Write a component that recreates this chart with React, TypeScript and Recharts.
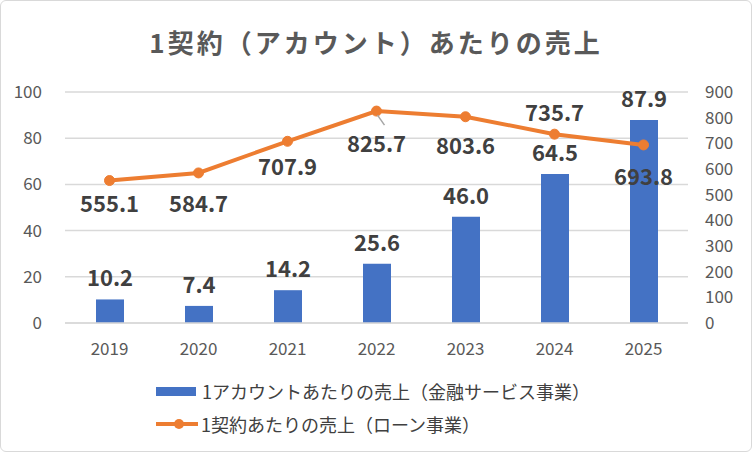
import { ComposedChart, Bar, Line, XAxis, YAxis, CartesianGrid, LabelList } from 'recharts';

const years = ['2019', '2020', '2021', '2022', '2023', '2024', '2025'];
const accountSales = [10.2, 7.4, 14.2, 25.6, 46.0, 64.5, 87.9];
const contractSales = [555.1, 584.7, 707.9, 825.7, 803.6, 735.7, 693.8];
const leftTicks = [0, 20, 40, 60, 80, 100];
const rightTicks = [0, 100, 200, 300, 400, 500, 600, 700, 800, 900];

const title = '1契約（アカウント）あたりの売上';
const barName = '1アカウントあたりの売上（金融サービス事業）';
const lineName = '1契約あたりの売上（ローン事業）';

// line label nudges in px (below the point, except 2024 which sits above)
const lineLabelDy = [21, 29, 24, 31, 27, -23, 30];

const data = years.map((year, i) => ({
  year,
  account: accountSales[i],
  contract: contractSales[i],
}));

const FONT = '"Noto Sans CJK JP", "Noto Sans", sans-serif';
const BLUE = '#4472C4';
const ORANGE = '#ED7D31';

const labelStyle = {
  fontFamily: FONT,
  fontSize: 22,
  fontWeight: 700,
  fill: '#404040',
};

const BarLabel = (props: any) => {
  const { x, y, width, value } = props;
  return (
    <text x={x + width / 2} y={y - 23} textAnchor="middle" dominantBaseline="central" style={labelStyle}>
      {Number(value).toFixed(1)}
    </text>
  );
};

const LineLabel = (props: any) => {
  const { x, y, value, index } = props;
  const dy = lineLabelDy[index];
  return (
    <g>
      {index === 3 && <line x1={x + 1} y1={y + 4} x2={x + 8} y2={y + 14} stroke="#a6a6a6" strokeWidth={1.5} />}
      <text x={x} y={y + dy} textAnchor="middle" dominantBaseline="central" style={labelStyle}>
        {Number(value).toFixed(1)}
      </text>
    </g>
  );
};

const tickStyle = { fill: '#595959', fontSize: 17, fontFamily: FONT };

export default function App() {
  return (
    <div
      style={{
        position: 'absolute',
        left: 0,
        top: 0,
        width: 750,
        height: 450,
        border: '1px solid #d9d9d9',
        borderRadius: 6,
        background: '#fff',
        fontFamily: FONT,
      }}
    >
      <div
        style={{
          position: 'absolute',
          top: 22,
          left: 0,
          width: 750,
          textAlign: 'center',
          fontSize: 26,
          fontWeight: 700,
          letterSpacing: 3,
          color: '#595959',
          lineHeight: '38px',
        }}
      >
        {title}
      </div>
      <div style={{ position: 'absolute', left: -1, top: -1 }}>
        <ComposedChart width={752} height={452} data={data} margin={{ top: 92, right: 0, bottom: 99, left: 0 }}>
          <CartesianGrid vertical={false} stroke="#d9d9d9" strokeWidth={1.5} yAxisId="left" />
          <XAxis
            dataKey="year"
            height={30}
            tickLine={false}
            tickSize={0}
            tickMargin={20}
            axisLine={{ stroke: '#d9d9d9', strokeWidth: 1.5 }}
            tick={tickStyle}
          />
          <YAxis
            yAxisId="left"
            width={65}
            domain={[0, 100]}
            ticks={leftTicks}
            axisLine={false}
            tickLine={false}
            tickSize={0}
            tickMargin={23}
            tick={tickStyle}
          />
          <YAxis
            yAxisId="right"
            orientation="right"
            width={64}
            domain={[0, 900]}
            ticks={rightTicks}
            axisLine={false}
            tickLine={false}
            tickSize={0}
            tickMargin={17}
            tick={tickStyle}
          />
          <Bar yAxisId="left" dataKey="account" name={barName} fill={BLUE} barSize={28} isAnimationActive={false}>
            <LabelList dataKey="account" content={BarLabel} />
          </Bar>
          <Line
            yAxisId="right"
            dataKey="contract"
            name={lineName}
            stroke={ORANGE}
            strokeWidth={4}
            dot={{ r: 5, fill: ORANGE, stroke: ORANGE, strokeWidth: 1 }}
            isAnimationActive={false}
          >
            <LabelList dataKey="contract" content={LineLabel} />
          </Line>
        </ComposedChart>
      </div>
      <div style={{ position: 'absolute', left: 155, top: 376, fontSize: 18, color: '#404040', lineHeight: '28px' }}>
        <div style={{ display: 'flex', alignItems: 'center', height: 28 }}>
          <span style={{ display: 'inline-block', width: 40, height: 9, background: BLUE, marginRight: 6 }} />
          <span>{barName}</span>
        </div>
        <div style={{ display: 'flex', alignItems: 'center', height: 28, marginTop: 5 }}>
          <svg width={42} height={14} style={{ marginRight: 3 }}>
            <line x1={0} y1={7} x2={42} y2={7} stroke={ORANGE} strokeWidth={4} />
            <circle cx={23} cy={7} r={5} fill={ORANGE} />
          </svg>
          <span>{lineName}</span>
        </div>
      </div>
    </div>
  );
}
